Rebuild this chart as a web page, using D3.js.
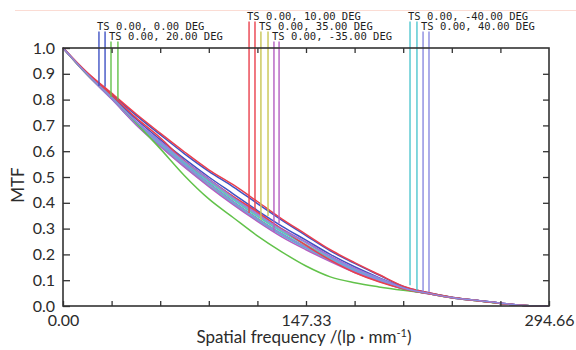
<!DOCTYPE html>
<html>
<head>
<meta charset="utf-8">
<script src="https://cdn.jsdelivr.net/npm/d3@7"></script>
<style>
  body { margin: 0; background: #fff; }
  svg { display: block; }
</style>
</head>
<body>
<script>
'use strict';

// spatial frequency grid (lp/mm)
const freq = [0, 14.73, 29.47, 44.2, 58.93, 73.67, 88.4, 103.13, 117.86, 132.6, 147.33,
  162.06, 176.8, 191.53, 206.26, 221, 235.73, 250.46, 265.19, 279.93, 294.66];

// MTF curves, T and S per field
const blueT = [1, .903, .822, .74, .664, .59, .522, .462, .397, .333, .273, .214, .165, .12, .076, .052, .034, .022, .011, .002, 0];
const blueS = [1, .9, .815, .725, .645, .57, .5, .435, .37, .31, .255, .2, .152, .11, .072, .05, .033, .022, .011, .002, 0];
const redT = [1, .905, .825, .745, .67, .597, .528, .47, .405, .338, .278, .218, .168, .122, .077, .052, .034, .022, .011, .002, 0];
const redS = [1, .902, .818, .73, .652, .562, .49, .425, .365, .298, .235, .178, .13, .094, .067, .048, .032, .021, .01, .002, 0];
const greenT = [1, .898, .81, .71, .61, .505, .415, .343, .272, .21, .155, .113, .09, .074, .061, .05, .033, .021, .01, .002, 0];
const greenS = [1, .897, .805, .708, .625, .548, .475, .405, .34, .28, .228, .18, .137, .1, .068, .049, .032, .021, .01, .002, 0];
const yellowT = [1, .898, .808, .712, .632, .556, .485, .415, .35, .29, .238, .186, .141, .103, .069, .049, .033, .021, .01, .002, 0];
const yellowS = [1, .896, .804, .706, .622, .543, .47, .4, .336, .277, .226, .178, .135, .099, .067, .048, .032, .021, .01, .002, 0];
const purpleT = [1, .899, .809, .716, .638, .563, .493, .424, .36, .3, .248, .193, .147, .108, .071, .05, .033, .022, .011, .002, 0];
const purpleS = [1, .895, .802, .703, .618, .538, .463, .393, .328, .268, .218, .172, .13, .096, .066, .048, .032, .021, .01, .002, 0];
const cyanT = [1, .898, .807, .712, .63, .553, .482, .412, .347, .287, .236, .185, .14, .103, .07, .05, .033, .022, .011, .002, 0];
const cyanS = [1, .896, .803, .705, .62, .54, .467, .398, .333, .274, .224, .176, .133, .098, .066, .048, .032, .021, .01, .002, 0];
const lavT = [1, .899, .809, .715, .636, .56, .49, .42, .355, .295, .245, .19, .145, .107, .07, .05, .033, .022, .011, .002, 0];
const lavS = [1, .897, .805, .708, .625, .547, .474, .404, .338, .279, .228, .18, .136, .1, .067, .049, .032, .021, .01, .002, 0];

// field labels and their marker lines (frequency, MTF at marker)
const fieldNames = ["TS 0.00, 0.00 DEG", "TS 0.00, 20.00 DEG", "TS 0.00, 10.00 DEG",
  "TS 0.00, 35.00 DEG", "TS 0.00, -35.00 DEG", "TS 0.00, -40.00 DEG", "TS 0.00, 40.00 DEG"];
const markerFreq = [[21.8, 25.5], [29.1, 33.3], [112.8, 116.4], [120.0, 124.3],
  [127.9, 131.0], [210.4, 214.6], [218.3, 221.9]];
const markerMtf = [[0.853, 0.850], [0.81, 0.80], [0.36, 0.372], [0.333, 0.349],
  [0.287, 0.32], [0.08, 0.062], [0.056, 0.054]];

const yTicks = [0, 0.1, 0.2, 0.3, 0.4, 0.5, 0.6, 0.7, 0.8, 0.9, 1.0];
const xTicks = [0, 29.466, 58.932, 88.398, 117.864, 147.33, 176.796, 206.262, 235.728, 265.194, 294.66];
const xTickLabels = ["0.00", "", "", "", "", "147.33", "", "", "", "", "294.66"];

const colors = {
  blue: "#4052c4", red: "#ea3f4c", green: "#62c24a", yellow: "#c9c653",
  purple: "#b35fc2", cyan: "#4fc6cf", lav: "#8a8ae0"
};

// curves, drawn in this order (red on top of the envelope, lavender tail last)
const curves = [
  {v: greenS, c: colors.green}, {v: yellowT, c: colors.yellow}, {v: yellowS, c: colors.yellow},
  {v: cyanT, c: colors.cyan}, {v: cyanS, c: colors.cyan},
  {v: blueS, c: colors.blue}, {v: blueT, c: colors.blue},
  {v: purpleT, c: colors.purple}, {v: purpleS, c: colors.purple},
  {v: lavS, c: colors.lav},
  {v: greenT, c: colors.green}, {v: redS, c: colors.red}, {v: redT, c: colors.red},
  {v: lavT, c: colors.lav}
];
const fieldColors = [colors.blue, colors.green, colors.red, colors.yellow, colors.purple, colors.cyan, colors.lav];
// label row (0 = top) per field
const labelRow = [1, 2, 0, 1, 2, 0, 1];

const W = 576, H = 350;
const m = {left: 63, right: 27, top: 48, bottom: 44};

const svg = d3.select('body').append('svg')
  .attr('width', W)
  .attr('height', H);

// faint scan line at top
svg.append('line')
  .attr('x1', 15).attr('x2', W).attr('y1', 10.5).attr('y2', 10.5)
  .attr('stroke', '#fbdcd4').attr('stroke-width', 1);

const x = d3.scaleLinear().domain([0, 294.66]).range([m.left, W - m.right]);
const y = d3.scaleLinear().domain([0, 1]).range([H - m.bottom, m.top]);

// curves
const line = d3.line()
  .x((d, i) => x(freq[i]))
  .y(d => y(d))
  .curve(d3.curveMonotoneX);

svg.selectAll('.curve')
  .data(curves)
  .enter()
  .append('path')
  .attr('class', 'curve')
  .attr('d', d => line(d.v))
  .attr('fill', 'none')
  .attr('stroke', d => d.c)
  .attr('stroke-width', 1.5);

// marker lines and labels
const rowBase = [19.5, 29.5, 39.5];
fieldNames.forEach((name, k) => {
  const row = labelRow[k];
  markerFreq[k].forEach((f, j) => {
    svg.append('line')
      .attr('x1', x(f)).attr('x2', x(f))
      .attr('y1', rowBase[row] + 2)
      .attr('y2', y(markerMtf[k][j]))
      .attr('stroke', fieldColors[k])
      .attr('stroke-width', 1.4);
  });
  svg.append('text')
    .attr('x', x(markerFreq[k][0]) - 2)
    .attr('y', rowBase[row])
    .style('font-family', '"DejaVu Sans Mono", monospace')
    .style('font-size', '10.5px')
    .style('fill', '#1e1e1e')
    .text(name);
});

// axes with inward ticks
const axisColor = '#333';
svg.append('g')
  .attr('transform', 'translate(' + m.left + ',0)')
  .call(d3.axisLeft(y).tickValues(yTicks).tickSize(-7).tickPadding(8).tickFormat(d3.format('.1f')));
svg.append('g')
  .attr('transform', 'translate(' + (W - m.right) + ',0)')
  .call(d3.axisRight(y).tickValues(yTicks.slice(1, 10)).tickSize(-6).tickFormat(''));
svg.append('g')
  .attr('transform', 'translate(0,' + (H - m.bottom) + ')')
  .call(d3.axisBottom(x).tickValues(xTicks).tickSize(-5).tickPadding(9)
    .tickFormat((d, i) => xTickLabels[i]));
svg.append('g')
  .attr('transform', 'translate(0,' + m.top + ')')
  .call(d3.axisTop(x).tickValues(xTicks.slice(1, 10)).tickSize(-5).tickFormat(''));

svg.selectAll('.domain').remove();
svg.selectAll('.tick line').attr('stroke', axisColor).attr('stroke-width', 1.3);
svg.selectAll('.tick text')
  .style('font-family', 'Lato, "Open Sans", sans-serif')
  .style('font-size', '16px')
  .style('fill', '#2b2b2b');

// frame
svg.append('rect')
  .attr('x', m.left).attr('y', m.top)
  .attr('width', W - m.left - m.right)
  .attr('height', H - m.top - m.bottom)
  .attr('fill', 'none')
  .attr('stroke', axisColor)
  .attr('stroke-width', 1.6);

// axis labels
svg.append('text')
  .attr('transform', 'translate(24,185)rotate(-90)')
  .attr('text-anchor', 'middle')
  .style('font-family', 'Lato, "Open Sans", sans-serif')
  .style('font-size', '17px')
  .style('fill', '#2b2b2b')
  .text('MTF');

const xLabel = svg.append('text')
  .attr('x', 304)
  .attr('y', 343)
  .attr('text-anchor', 'middle')
  .style('font-family', 'Lato, "Open Sans", sans-serif')
  .style('font-size', '17px')
  .style('fill', '#2b2b2b');
xLabel.append('tspan').text('Spatial frequency /(lp \u00b7 mm');
xLabel.append('tspan').attr('dy', -6).style('font-size', '11px').text('-1');
xLabel.append('tspan').attr('dy', 6).text(')');
</script>
</body>
</html>
